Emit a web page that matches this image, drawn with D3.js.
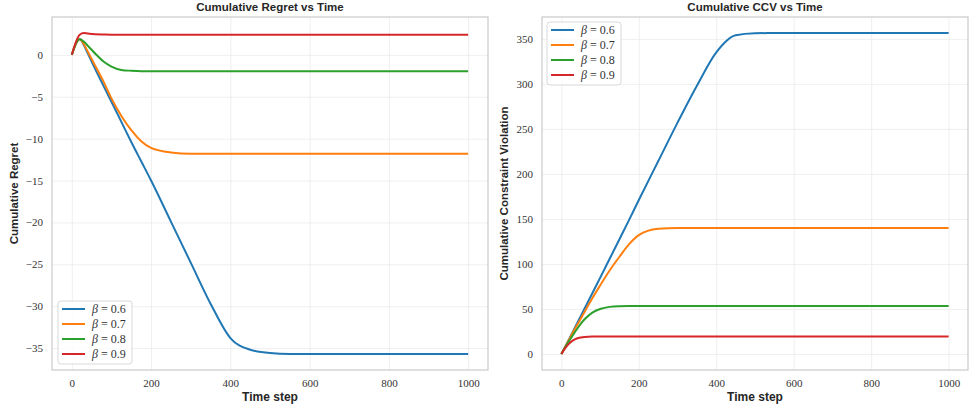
<!DOCTYPE html>
<html>
<head>
<meta charset="utf-8">
<script src="https://cdn.jsdelivr.net/npm/d3@7"></script>
<style>
  body { margin: 0; background: #fff; }
  .title, .ylab, .xlab { font-family: "Liberation Sans", Arial, sans-serif; font-weight: bold; fill: #262626; }
</style>
</head>
<body>
<svg id="fig" width="971" height="408"></svg>
<script>
var steps = [0, 10, 20, 30, 40, 50, 60, 80, 100, 125, 150, 175, 200, 250, 300, 350, 400, 450, 500, 550, 600, 800, 1000];
var betas = ["0.6", "0.7", "0.8", "0.9"];
var colors = ["#1f77b4", "#ff7f0e", "#2ca02c", "#d62728"];

// cumulative regret
var regret06 = [0, 1.3, 1.9, 1.2, 0.2, -0.8, -1.8, -3.7, -5.6, -8.0, -10.4, -12.7, -15.0, -19.9, -24.8, -29.7, -33.8, -35.2, -35.6, -35.7, -35.7, -35.7, -35.7];
var regret07 = [0, 1.3, 1.85, 1.3, 0.4, -0.5, -1.4, -3.2, -5.2, -7.3, -9.0, -10.3, -11.1, -11.65, -11.8, -11.8, -11.8, -11.8, -11.8, -11.8, -11.8, -11.8, -11.8];
var regret08 = [0, 1.3, 1.85, 1.6, 1.1, 0.6, 0.1, -0.8, -1.4, -1.8, -1.9, -1.95, -1.95, -1.95, -1.95, -1.95, -1.95, -1.95, -1.95, -1.95, -1.95, -1.95, -1.95];
var regret09 = [0, 1.5, 2.4, 2.6, 2.55, 2.5, 2.45, 2.42, 2.4, 2.4, 2.4, 2.4, 2.4, 2.4, 2.4, 2.4, 2.4, 2.4, 2.4, 2.4, 2.4, 2.4, 2.4];

// cumulative constraint violation
var ccv06 = [0, 8, 16.5, 25, 33.5, 42, 50.5, 67.5, 84.5, 106, 127.5, 149, 171, 214, 257, 298, 335, 354, 356.3, 356.5, 356.5, 356.5, 356.5];
var ccv07 = [0, 8, 16, 24, 31.5, 39, 47, 62, 76, 93, 108, 122, 132, 139, 140, 140, 140, 140, 140, 140, 140, 140, 140];
var ccv08 = [0, 7.5, 14.5, 21, 27.5, 33.5, 38.5, 46, 50, 52.3, 53, 53.2, 53.2, 53.2, 53.2, 53.2, 53.2, 53.2, 53.2, 53.2, 53.2, 53.2, 53.2];
var ccv09 = [0, 6.5, 11.5, 15, 17.2, 18.3, 18.9, 19.3, 19.4, 19.4, 19.4, 19.4, 19.4, 19.4, 19.4, 19.4, 19.4, 19.4, 19.4, 19.4, 19.4, 19.4, 19.4];

var xTicks = [0, 200, 400, 600, 800, 1000];
var regretTicks = [0, -5, -10, -15, -20, -25, -30, -35];
var ccvTicks = [0, 50, 100, 150, 200, 250, 300, 350];

var serif = "Liberation Serif, DejaVu Serif, serif";
var svg = d3.select("#fig");

function styleLabels(s) {
  s.select(".domain").remove();
  s.attr("font-family", serif).attr("font-size", 11);
  s.selectAll("text").attr("fill", "#333333");
}

function drawPanel(p) {
  var top = 17, bottom = 370;
  var g = svg.append("g");
  var all = d3.merge(p.series);
  var ext = d3.extent(all);
  var pad = (ext[1] - ext[0]) * 0.05;
  var x = d3.scaleLinear().domain([-50, 1050]).range([p.left, p.right]);
  var y = d3.scaleLinear().domain([ext[0] - pad, ext[1] + pad]).range([bottom, top]);
  var fmt = d3.format("d");

  // grid
  g.append("g").attr("transform", "translate(0," + bottom + ")")
    .call(d3.axisBottom(x).tickValues(xTicks).tickSize(-(bottom - top)).tickFormat(""))
    .call(function (s) { s.select(".domain").remove(); s.selectAll("line").attr("stroke", "#ebebeb").attr("stroke-width", 0.8); });
  g.append("g").attr("transform", "translate(" + p.left + ",0)")
    .call(d3.axisLeft(y).tickValues(p.yTicks).tickSize(-(p.right - p.left)).tickFormat(""))
    .call(function (s) { s.select(".domain").remove(); s.selectAll("line").attr("stroke", "#ebebeb").attr("stroke-width", 0.8); });

  // tick labels
  g.append("g").attr("transform", "translate(0," + bottom + ")")
    .call(d3.axisBottom(x).tickValues(xTicks).tickFormat(fmt).tickSize(0).tickPadding(9))
    .call(styleLabels);
  g.append("g").attr("transform", "translate(" + p.left + ",0)")
    .call(d3.axisLeft(y).tickValues(p.yTicks).tickFormat(fmt).tickSize(0).tickPadding(9))
    .call(styleLabels);

  // lines
  var line = d3.line()
    .x(function (d, i) { return x(steps[i]); })
    .y(function (d) { return y(d); })
    .curve(d3.curveMonotoneX);
  p.series.forEach(function (s, i) {
    g.append("path").datum(s)
      .attr("fill", "none").attr("stroke", colors[i]).attr("stroke-width", 2)
      .attr("d", line);
  });

  // spines
  g.append("rect").attr("x", p.left).attr("y", top)
    .attr("width", p.right - p.left).attr("height", bottom - top)
    .attr("fill", "none").attr("stroke", "#cccccc").attr("stroke-width", 1.25);

  g.append("text").attr("class", "title")
    .attr("x", (p.left + p.right) / 2).attr("y", 11).attr("text-anchor", "middle")
    .attr("font-size", 11.5).text(p.title);
  g.append("text").attr("class", "xlab")
    .attr("x", (p.left + p.right) / 2).attr("y", 401).attr("text-anchor", "middle")
    .attr("font-size", 12).text("Time step");
  g.append("text").attr("class", "ylab")
    .attr("transform", "translate(" + p.ylabX + "," + ((top + bottom) / 2) + ") rotate(-90)")
    .attr("text-anchor", "middle").attr("font-size", 11.5).text(p.ylabel);

  // legend
  var lg = g.append("g").attr("transform", "translate(" + p.legX + "," + p.legY + ")");
  lg.append("rect").attr("width", 74).attr("height", 63).attr("rx", 3)
    .attr("fill", "#fff").attr("fill-opacity", 0.8).attr("stroke", "#d9d9d9").attr("stroke-width", 1);
  betas.forEach(function (b, i) {
    var yy = 8 + i * 15;
    lg.append("line").attr("x1", 4).attr("x2", 27).attr("y1", yy).attr("y2", yy)
      .attr("stroke", colors[i]).attr("stroke-width", 2);
    var t = lg.append("text").attr("x", 34).attr("y", yy + 4)
      .attr("font-family", serif).attr("font-size", 12).attr("fill", "#333333");
    t.append("tspan").attr("font-style", "italic").text("\u03b2");
    t.append("tspan").text(" = " + b);
  });
}

drawPanel({
  left: 52, right: 488,
  series: [regret06, regret07, regret08, regret09],
  yTicks: regretTicks,
  title: "Cumulative Regret vs Time",
  ylabel: "Cumulative Regret",
  ylabX: 18,
  legX: 58, legY: 301
});
drawPanel({
  left: 542, right: 968,
  series: [ccv06, ccv07, ccv08, ccv09],
  yTicks: ccvTicks,
  title: "Cumulative CCV vs Time",
  ylabel: "Cumulative Constraint Violation",
  ylabX: 508,
  legX: 547, legY: 22
});
</script>
</body>
</html>
